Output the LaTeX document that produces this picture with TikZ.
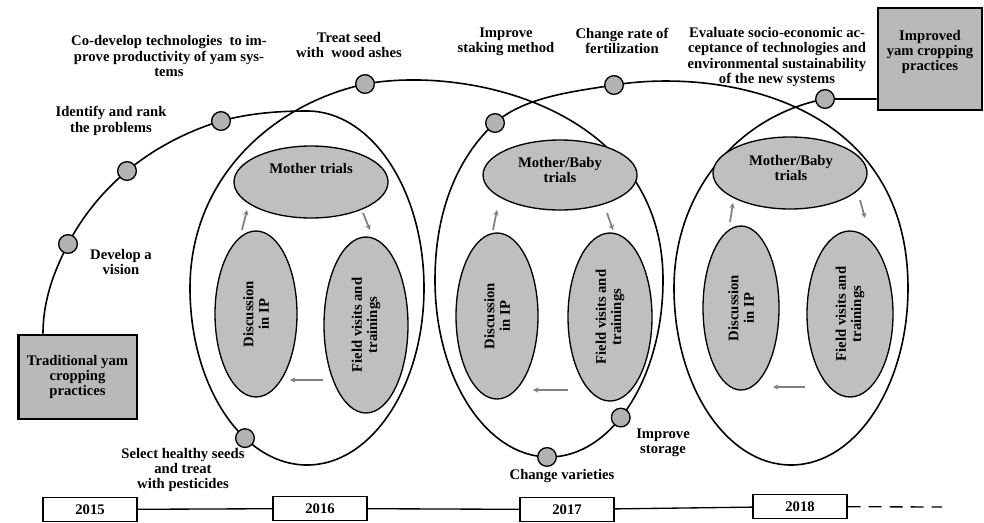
\documentclass[tikz,border=0pt]{standalone}
\usepackage{fontspec}
\setmainfont{Liberation Serif}
\usetikzlibrary{shapes.geometric,arrows.meta}

\begin{document}
\begin{tikzpicture}
  [x=0.75pt,y=0.75pt,
   every node/.style={font=\bfseries\fontsize{11}{11.5}\selectfont,align=center,inner sep=0pt},
   dot/.style={circle,draw,line width=1pt,fill=gray!60,minimum size=14pt},
   blob/.style={ellipse,draw,line width=1pt,fill=gray!50},
   pbox/.style={rectangle,draw,line width=2pt,fill=gray!55},
   yearbox/.style={rectangle,draw,line width=1pt,fill=white,minimum width=70.5pt,minimum height=18pt},
   coil/.style={line width=1.2pt},
   garrow/.style={draw=gray,line width=1.3pt,-{Stealth[length=4pt,width=4pt]}}]
  \useasboundingbox (0,0) rectangle (984,-522);

  % practice boxes
  \node[pbox,minimum width=89pt,minimum height=63pt] (trad) at (77.5,-377) {Traditional yam\\cropping\\practices};
  \node[pbox,minimum width=78pt,minimum height=76.5pt] (impr) at (930,-59) {};
  \node (imprtext) at (930,-52) {Improved\\yam cropping\\practices};

  % steps on the coil
  \coordinate (tx) at (43,0);
  \coordinate (pa) at (68,-244);
  \coordinate (pb) at (127,-171);
  \coordinate (pc) at (221,-121);
  \coordinate (pd) at (365,-84);
  \coordinate (pe) at (495,-123);
  \coordinate (pf) at (614,-85);
  \coordinate (pg) at (825,-99);
  \coordinate (ph) at ([shift={(307,-288)}]-122:117 and 177);
  \coordinate (pi) at ([shift={(549,-280)}]-91:114 and 177);
  \coordinate (pj) at ([shift={(549,-280)}]-51:114 and 177);

  \draw[coil] (trad.north -| tx) .. controls (43,-295) and (58,-264) .. (pa)
    .. controls (82,-217) and (102,-192) .. (pb)
    .. controls (157,-146) and (191,-130) .. (pc)
    .. controls (250,-113) and (280,-111) .. (307,-111)
    arc[start angle=90,end angle=-180,x radius=117,y radius=177]
    .. controls (190,-180) and (270,-105) .. (pd)
    .. controls (470,-65) and (663,-110) .. (663,-280)
    arc[start angle=0,end angle=-180,x radius=114,y radius=177]
    .. controls (435,-200) and (465,-150) .. (pe)
    .. controls (525,-96) and (578,-91) .. (pf)
    .. controls (720,-68) and (908,-100) .. (908,-288)
    arc[start angle=0,end angle=-180,x radius=117,y radius=177]
    .. controls (674,-190) and (740,-115) .. (pg)
    -- (impr.west |- pg);

  \foreach \p in {pa,pb,pc,pd,pe,pf,pg,ph,pi,pj}
    \node[dot] (\p-dot) at (\p) {};

  % loop 1
  \node[blob,minimum width=115.5pt,minimum height=54pt] (ma) at (311,-182) {};
  \node (matext) at (311,-168) {Mother trials};
  \node[blob,rotate=90,minimum width=124.5pt,minimum height=61.5pt] (da) at (256,-314) {Discussion\\in IP};
  \node[blob,rotate=90,minimum width=132pt,minimum height=63pt] (fa) at (366,-325) {Field visits and\\trainings};
  % loop 2
  \node[blob,minimum width=115.5pt,minimum height=52.5pt] (mb) at (560,-175) {};
  \node (mbtext) at (560,-170) {Mother/Baby\\trials};
  \node[blob,rotate=90,minimum width=124.5pt,minimum height=61.5pt] (db) at (497,-316) {Discussion\\in IP};
  \node[blob,rotate=90,minimum width=126pt,minimum height=63pt] (fb) at (610,-317) {Field visits and\\trainings};
  % loop 3
  \node[blob,minimum width=115.5pt,minimum height=54pt] (mc) at (790,-173) {};
  \node (mctext) at (791,-168) {Mother/Baby\\trials};
  \node[blob,rotate=90,minimum width=123pt,minimum height=57pt] (dc) at (741,-308) {Discussion\\in IP};
  \node[blob,rotate=90,minimum width=124.5pt,minimum height=64.5pt] (fc) at (850,-314) {Field visits and\\trainings};

  % small arrows inside the loops
  \foreach \n/\a/\b/\c/\d in {a1/242/230/247/210, a2/363/213/370/230, a3/323/380/290/380,
                              b1/493/230/497/210, b2/607/213/613/230, b3/568/390/533/390,
                              c1/730/222/733/203, c2/860/200/865/218, c3/805/387/773/387} {
    \coordinate (\n s) at (\a,-\b);
    \coordinate (\n e) at (\c,-\d);
    \draw[garrow] (\n s) -- (\n e);
  }

  % labels
  \node (lvision) at (121,-262) {Develop a\\vision};
  \node (lrank) at (111,-121) {Identify and rank\\the problems};
  \node (lcodev) at (169,-56) {Co-develop technologies~ to im-\\prove productivity of yam sys-\\tems};
  \node (lash) at (349,-45) {Treat seed\\with~ wood ashes};
  \node (lstake) at (506,-42) {Improve\\staking method};
  \node (lfert) at (622,-41) {Change rate of\\fertilization};
  \node (leval) at (777,-57) {Evaluate socio-economic ac-\\ceptance of technologies and\\environmental sustainability\\of the new systems};
  \node (lseed) at (183,-470) {Select healthy seeds\\and treat\\with pesticides};
  \node (lvar) at (562,-476) {Change varieties};
  \node (lstore) at (663,-443) {Improve\\storage};

  % time line
  \node[yearbox] (ya) at (90,-509.5) {2015};
  \node[yearbox] (yb) at (320,-508.5) {2016};
  \node[yearbox] (yc) at (567,-509.5) {2017};
  \node[yearbox] (yd) at (800,-506.5) {2018};
  \coordinate (yend) at (942,-507);
  \foreach \from/\to in {ya/yb,yb/yc,yc/yd}
    \draw[line width=1pt] (\from) -- (\to);
  \draw[line width=1pt,dash pattern=on 9.75pt off 6pt] (yd) -- (yend);
\end{tikzpicture}
\end{document}
